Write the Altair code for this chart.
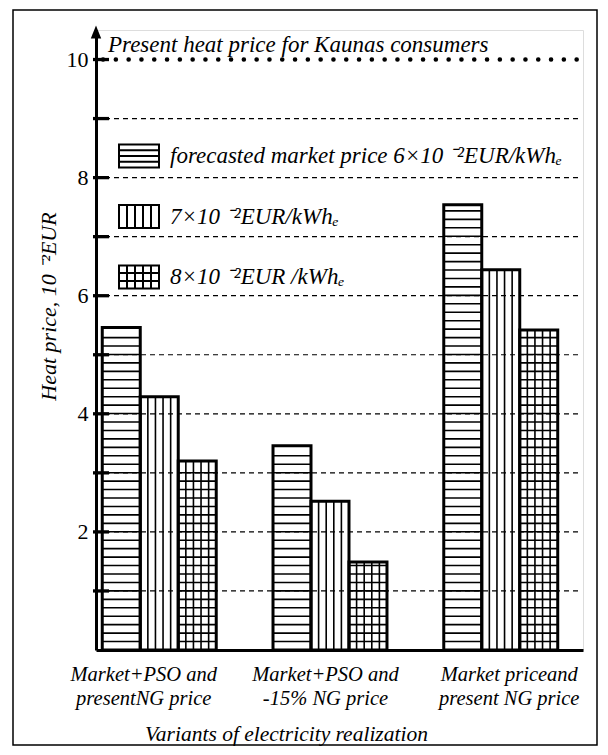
import json
import numpy as np
import pandas as pd
import altair as alt

# ---------------- data ----------------
categories = ["Market+PSO and\npresentNG price",
              "Market+PSO and\n-15% NG price",
              "Market priceand\npresent NG price"]
series_labels = ["forecasted market price 6×10 ⁻²EUR/kWhₑ",
                 "7×10 ⁻²EUR/kWhₑ",
                 "8×10 ⁻²EUR /kWhₑ"]
price_6 = [5.46, 3.46, 7.54]
price_7 = [4.29, 2.52, 6.44]
price_8 = [3.20, 1.49, 5.42]
present_heat_price = 10.0
y_tick_values = [1, 2, 3, 4, 5, 6, 7, 8, 9, 10]
y_label_values = [2, 4, 6, 8, 10]
grid_levels = [1, 2, 3, 4, 5, 6, 7, 8, 9]

FONT = "Liberation Serif, Times New Roman, serif"
BAR_W = 0.2225          # bar width in group units (style)
H_STEP = 0.143          # spacing of horizontal hatch lines (style)
V_FRACS = [0.2, 0.4, 0.6, 0.8]  # vertical hatch positions inside a bar (style)

series_values = [price_6, price_7, price_8]
bars = pd.DataFrame([
    {"g": gi, "s": si, "series": series_labels[si], "value": series_values[si][gi]}
    for si in range(3) for gi in range(3)
])

# pattern tables (horizontal lines for series 0 & 2, vertical lines for series 1 & 2)
hrows, vrows = [], []
for _, r in bars.iterrows():
    if r.s in (0, 2):
        for lv in np.arange(H_STEP, r.value - H_STEP * 0.4, H_STEP):
            hrows.append({"g": r.g, "s": r.s, "level": float(lv)})
    if r.s in (1, 2):
        for f in V_FRACS:
            vrows.append({"g": r.g, "s": r.s, "frac": f, "value": r.value})
hatch_h = pd.DataFrame(hrows)
hatch_v = pd.DataFrame(vrows)

xcalc = dict(x0=f"datum.g + (datum.s - 1.5) * {BAR_W}",
             x1=f"datum.g + (datum.s - 0.5) * {BAR_W}",
             zero="0")

xs = alt.Scale(domain=[-0.3704, 2.4817], nice=False, zero=False)
ys = alt.Scale(domain=[0, 10.5], nice=False)

label_lists = json.dumps([c.split("\n") for c in categories], ensure_ascii=False)

x_axis = alt.Axis(values=[0, 1, 2], labelExpr=f"{label_lists}[datum.value]",
                  domainWidth=3, domainColor="black", ticks=False, grid=False,
                  labelFont=FONT, labelFontStyle="italic", labelFontSize=20.5,
                  labelColor="black", labelPadding=14, labelLineHeight=24,
                  labelBaseline="top", labelOverlap=False,
                  labelOffset={"condition": [{"test": "datum.value === 0", "value": -16},
                                             {"test": "datum.value === 1", "value": -5}],
                               "value": 8},
                  title="Variants of electricity realization", titleFont=FONT,
                  titleFontStyle="italic", titleFontWeight="normal", titleFontSize=21.5,
                  titleColor="black", titleX=190, titleY=84, titleAnchor="middle",
                  titleAlign="center", titleBaseline="middle")
y_axis = alt.Axis(values=y_label_values, domainWidth=3, domainColor="black",
                  ticks=False, grid=False, labelFont=FONT, labelFontSize=22,
                  labelColor="black", labelPadding=8,
                  title="Heat price, 10 ⁻²EUR", titleFont=FONT, titleFontStyle="italic",
                  titleFontWeight="normal", titleFontSize=22, titleColor="black",
                  titleX=-48, titleY=276, titleAngle=270, titleAlign="center",
                  titleBaseline="middle")

X = lambda f: alt.X(f, scale=xs, axis=x_axis)
Y = lambda f: alt.Y(f, scale=ys, axis=y_axis)

base = alt.Chart(bars).transform_calculate(**xcalc)

bar_fill = base.mark_rect(fill="white", strokeWidth=0).encode(
    x=X("x0:Q"), x2="x1:Q", y=Y("value:Q"), y2="zero:Q")

h_lines = alt.Chart(hatch_h).transform_calculate(**xcalc).mark_rule(
    color="black", strokeWidth=1.6).encode(
    x=X("x0:Q"), x2="x1:Q", y=Y("level:Q"))

v_lines = alt.Chart(hatch_v).transform_calculate(**xcalc).transform_calculate(
    xv=f"datum.x0 + datum.frac * {BAR_W}").mark_rule(
    color="black", strokeWidth=1.6).encode(
    x=X("xv:Q"), y=Y("zero:Q"), y2="value:Q")

grid = alt.Chart(pd.DataFrame({"level": grid_levels})).mark_rule(
    color="black", strokeWidth=1.2, strokeDash=[5, 4]).encode(
    y=Y("level:Q"), x=alt.value(0), x2=alt.value(482))

dotted = alt.Chart(pd.DataFrame({"level": [present_heat_price]})).mark_rule(
    color="black", strokeWidth=4.5, strokeDash=[0.1, 12.7], strokeCap="round").encode(
    y=Y("level:Q"), x=alt.value(7), x2=alt.value(483))

bar_outline = base.mark_rect(fillOpacity=0, stroke="black", strokeWidth=3).encode(
    x=X("x0:Q"), x2="x1:Q", y=Y("value:Q"), y2="zero:Q")

ticks = alt.Chart(pd.DataFrame({"t": y_tick_values})).mark_rule(
    color="black", strokeWidth=3.3).encode(
    y=Y("t:Q"), x=alt.value(-3), x2=alt.value(13))

arrow = alt.Chart(pd.DataFrame({"a": [0]})).mark_point(
    shape="M0,-1L0.8,1L-0.8,1Z", filled=True, color="black", size=170, opacity=1).encode(
    x=alt.value(0), y=alt.value(2))

note = alt.Chart(pd.DataFrame({"t": ["Present heat price for Kaunas consumers"]})).mark_text(
    font=FONT, fontStyle="italic", fontSize=23, align="left", baseline="alphabetic",
    color="black").encode(text="t:N", x=alt.value(12), y=alt.value(22))

sym_h = "M-1,-0.575H1V0.575H-1Z M-1,-0.29H1 M-1,0H1 M-1,0.29H1"
sym_v = "M-1,-0.575H1V0.575H-1Z M-0.6,-0.575V0.575 M-0.2,-0.575V0.575 M0.2,-0.575V0.575 M0.6,-0.575V0.575"
sym_g = sym_v + " M-1,-0.2H1 M-1,0.2H1"

legend_pts = base.mark_point(opacity=0, filled=False).encode(
    x=X("x0:Q"), y=Y("value:Q"),
    shape=alt.Shape("series:N",
                    scale=alt.Scale(domain=series_labels, range=[sym_h, sym_v, sym_g]),
                    legend=alt.Legend(orient="none", legendX=22, legendY=105, title=None,
                                      symbolSize=1600, symbolOpacity=1,
                                      symbolStrokeColor="black", symbolFillColor="white",
                                      symbolStrokeWidth=2, labelFont=FONT,
                                      labelFontStyle="italic", labelFontSize=23,
                                      labelColor="black", labelLimit=600,
                                      labelOffset=10, rowPadding=23.5, padding=0)),
)

frame = alt.Chart(pd.DataFrame({"a": [0]})).mark_rect(
    fillOpacity=0, stroke="black", strokeWidth=1.5).encode(
    x=alt.value(-83), x2=alt.value(501), y=alt.value(-20), y2=alt.value(715))

chart = alt.layer(
    bar_fill, h_lines, v_lines, grid, dotted, bar_outline, ticks, arrow, note,
    legend_pts, frame
).properties(
    width=487, height=620,
    padding={"left": 96, "top": 30, "right": 25, "bottom": 105},
    autosize=alt.AutoSizeParams(type="none"),
).configure_view(stroke=None).configure(background="white")

chart.save("out.html", embed_options={"renderer": "svg", "actions": False})
